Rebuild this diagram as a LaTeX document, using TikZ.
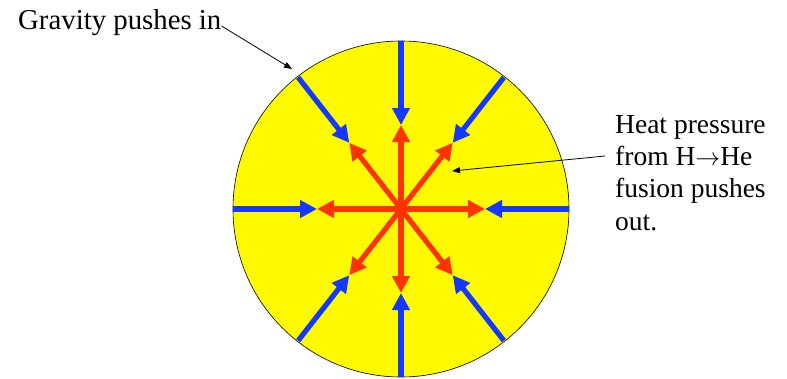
\documentclass[tikz,border=0pt]{standalone}
\usepackage{fontspec}
\setmainfont{Liberation Serif}
\usetikzlibrary{arrows.meta,calc}
\definecolor{sunyellow}{RGB}{255,250,0}
\definecolor{gravblue}{RGB}{20,56,255}
\definecolor{heatred}{RGB}{255,51,0}
\tikzset{
  star/.style={circle, draw=black, line width=0.6pt, fill=sunyellow, minimum size=336pt, inner sep=0pt},
  inarrow/.style={draw=gravblue, line width=5.2pt, -{Triangle[length=17pt,width=17pt]}},
  outarrow/.style={draw=heatred, line width=5.2pt, -{Triangle[length=17pt,width=17pt]}},
  pointer/.style={draw=black, line width=0.8pt, -{Triangle[length=8pt,width=6pt]}},
  txtlabel/.style={font=\fontsize{27.5}{32.3}\selectfont, inner sep=0pt, align=left}
}
\begin{document}
\begin{tikzpicture}[x=1pt,y=-1pt]
\useasboundingbox (0,0) rectangle (787,378);
\node[star] (sun) at (401,209) {};
\coordinate (c) at (401,209);
% straight arrows start at the rim
\foreach \n/\a/\r in {e/0/168, n/-90/168, w/180/168, s/90/168, ne/-52/167, nw/-128/167, sw/128/167, se/52/167}{
  \coordinate (tip\n) at ($(c)+(\a:84)$);
  \coordinate (rim\n) at ($(c)+(\a:\r)$);
}
\foreach \n in {e,n,w,s,ne,nw,sw,se}{
  \draw[outarrow] (c) -- (tip\n);
}
\foreach \n in {e,n,w,s,ne,nw,sw,se}{
  \draw[inarrow] (rim\n) -- (tip\n);
}
\node[txtlabel, font=\fontsize{28.8}{32.3}\selectfont, anchor=base west] (grav) at (18,29) {Gravity pushes in};
\coordinate (gravtip) at (292,69);
\draw[pointer] ([yshift=3pt]grav.base east) -- (gravtip);
\node[txtlabel, anchor=base west] (heat) at (615,230) {Heat pressure\\from H\(\rightarrow\)He\\fusion pushes\\out.};
\coordinate (heatstart) at (605,156);
\coordinate (heattip) at (452,171);
\draw[pointer] (heatstart) -- (heattip);
\end{tikzpicture}
\end{document}
